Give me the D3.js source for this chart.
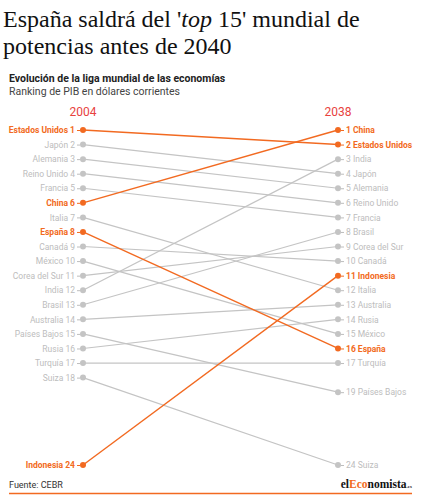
<!DOCTYPE html>
<html><head><meta charset="utf-8">
<script src="https://cdn.jsdelivr.net/npm/d3@7"></script>
<style>body{margin:0;background:#fff;}svg{display:block;}</style>
</head><body>
<svg id="c" width="428" height="500"></svg>
<script>
const countries = ["Estados Unidos","Japón","Alemania","Reino Unido","Francia","China","Italia","España","Canadá","México","Corea del Sur","India","Brasil","Australia","Países Bajos","Rusia","Turquía","Suiza","Indonesia"];
const rank2004 = [1,2,3,4,5,6,7,8,9,10,11,12,13,14,15,16,17,18,24];
const rank2038 = [2,4,5,6,7,1,12,16,10,15,9,3,8,13,19,14,17,24,11];
const highlighted = ["Estados Unidos","China","España","Indonesia"];
const years = ["2004","2038"];

const ORANGE = "#f26a21", GREY = "#c4c4c4", LABEL_GREY = "#bdbdbd", RED = "#e8423e";
const svg = d3.select("#c");
const xL = 83, xR = 338;
const y = d3.scaleLinear().domain([1,24]).range([130,465]);
const x = d3.scalePoint().domain(years).range([xL,xR]);
const font = "Roboto, 'Noto Sans', sans-serif";
const serif = "'Liberation Serif', Georgia, serif";

// Title
const t = svg.append("text").attr("font-family",serif).attr("font-size",24).attr("fill","#111");
t.append("tspan").attr("x",3).attr("y",27).text("España saldrá del '");
t.append("tspan").attr("font-style","italic").text("top");
t.append("tspan").text(" 15' mundial de");
t.append("tspan").attr("x",3).attr("y",54).text("potencias antes de 2040");

svg.append("text").attr("x",9).attr("y",82).attr("font-family",font).attr("font-weight","bold").attr("font-size",10.5).attr("fill","#222").text("Evolución de la liga mundial de las economías");
svg.append("text").attr("x",9).attr("y",95).attr("font-family",font).attr("font-size",10.5).attr("fill","#444").text("Ranking de PIB en dólares corrientes");

// Year headers
svg.selectAll("text.year").data(years).join("text").attr("class","year")
  .attr("x",d=>x(d)).attr("y",116).attr("text-anchor","middle")
  .attr("font-family",font).attr("font-size",12).attr("fill",RED).text(d=>d);

const data = countries.map((c,i)=>({c, a:rank2004[i], b:rank2038[i], h:highlighted.includes(c)}));
const byA = new Map(data.map(d=>[d.a,d])), byB = new Map(data.map(d=>[d.b,d]));

// Lines (grey first, then orange)
const sorted = data.slice().sort((p,q)=>p.h-q.h);
svg.append("g").selectAll("line").data(sorted).join("line")
  .attr("x1",x("2004")).attr("x2",x("2038"))
  .attr("y1",d=>y(d.a)).attr("y2",d=>y(d.b))
  .attr("stroke",d=>d.h?ORANGE:GREY).attr("stroke-width",d=>d.h?1.4:1.2);

// Axes
const axL = d3.axisLeft(y).tickValues(rank2004).tickSize(3).tickPadding(2).tickFormat(r=>byA.get(r).c+" "+r);
const axR = d3.axisRight(y).tickValues(rank2038).tickSize(3).tickPadding(2).tickFormat(r=>r+" "+byB.get(r).c);
function style(g, map){
  g.select(".domain").remove();
  g.selectAll(".tick line").attr("stroke",r=>map.get(r).h?ORANGE:LABEL_GREY);
  g.selectAll(".tick text").attr("font-family",font).attr("font-size",8.5)
    .attr("font-weight",r=>map.get(r).h?"bold":"normal")
    .attr("fill",r=>map.get(r).h?ORANGE:LABEL_GREY);
}
svg.append("g").attr("transform",`translate(${xL-3},0)`).call(axL).call(g=>style(g,byA));
svg.append("g").attr("transform",`translate(${xR+3},0)`).call(axR).call(g=>style(g,byB));

// Dots
svg.append("g").selectAll("circle").data(sorted).join("circle")
  .attr("cx",x("2004")).attr("cy",d=>y(d.a)).attr("r",3).attr("fill",d=>d.h?ORANGE:GREY);
svg.append("g").selectAll("circle").data(sorted).join("circle")
  .attr("cx",x("2038")).attr("cy",d=>y(d.b)).attr("r",3).attr("fill",d=>d.h?ORANGE:GREY);

// Footer
svg.append("text").attr("x",9).attr("y",488).attr("font-family",font).attr("font-size",9).attr("fill","#333").text("Fuente: CEBR");
const lg = svg.append("text").attr("x",412).attr("y",488).attr("text-anchor","end")
  .attr("font-family",serif).attr("font-weight","bold").attr("font-size",11.5).attr("fill","#111");
lg.append("tspan").text("el");
lg.append("tspan").attr("fill",ORANGE).text("Eco");
lg.append("tspan").text("nomista");
lg.append("tspan").attr("font-size",5).text(".es");
svg.append("line").attr("x1",9).attr("x2",412).attr("y1",493.5).attr("y2",493.5).attr("stroke",ORANGE).attr("stroke-width",1.5);
</script>
</body></html>
